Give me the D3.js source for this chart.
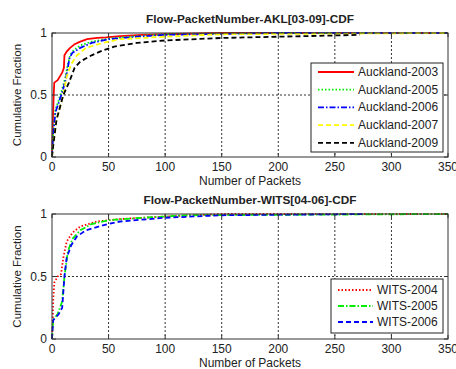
<!DOCTYPE html>
<html>
<head>
<meta charset="utf-8">
<script src="https://cdn.jsdelivr.net/npm/d3@7"></script>
<style>
  body { margin: 0; background: #fff; }
  text { font-family: "Liberation Sans", Arial, sans-serif; }
</style>
</head>
<body>
<script>
// Auckland CDFs (x = packets, y = cumulative fraction)
let akl2003X = [0, 0.8, 1.5, 2, 5, 7, 9, 10.5, 11, 13, 16, 20, 25, 31, 40, 48, 60, 80, 100, 150, 350];
let akl2003Y = [0, 0.3, 0.5, 0.6, 0.62, 0.65, 0.68, 0.72, 0.82, 0.85, 0.88, 0.91, 0.93, 0.95, 0.96, 0.965, 0.975, 0.985, 0.99, 1, 1];
let akl2005X = [0, 1, 3, 6, 9, 12, 14, 16, 19, 25, 35, 50, 75, 100, 200, 350];
let akl2005Y = [0, 0.2, 0.38, 0.46, 0.55, 0.65, 0.75, 0.82, 0.86, 0.9, 0.93, 0.955, 0.975, 0.99, 1, 1];
let akl2006X = [0, 1, 3, 6, 9, 12, 14, 15.5, 18, 25, 35, 50, 75, 100, 200, 350];
let akl2006Y = [0, 0.18, 0.36, 0.44, 0.52, 0.62, 0.72, 0.8, 0.84, 0.88, 0.92, 0.95, 0.97, 0.985, 1, 1];
let akl2007X = [0, 1, 4, 7, 10, 13, 17, 22, 30, 45, 60, 100, 150, 350];
let akl2007Y = [0, 0.1, 0.3, 0.4, 0.5, 0.65, 0.75, 0.82, 0.88, 0.92, 0.95, 0.97, 0.99, 1];
let akl2009X = [0, 0.5, 4, 7, 10, 15, 20, 25, 35, 45, 55, 75, 100, 150, 200, 250, 272];
let akl2009Y = [0, 0.05, 0.3, 0.4, 0.5, 0.6, 0.72, 0.77, 0.82, 0.86, 0.89, 0.92, 0.94, 0.96, 0.97, 0.98, 0.985];

// WITS CDFs
let wits2004X = [0, 0.5, 1, 2, 5, 8, 10, 13, 18, 25, 40, 60, 100, 150, 350];
let wits2004Y = [0, 0.1, 0.3, 0.45, 0.5, 0.52, 0.65, 0.78, 0.85, 0.9, 0.94, 0.96, 0.98, 1, 1];
let wits2005X = [0, 1, 5, 9, 11, 14, 18, 25, 35, 50, 80, 120, 350];
let wits2005Y = [0, 0.15, 0.2, 0.3, 0.5, 0.7, 0.8, 0.87, 0.92, 0.95, 0.97, 0.99, 1];
let wits2006X = [0, 1, 6, 9, 11, 13, 17, 22, 30, 45, 60, 100, 150, 277];
let wits2006Y = [0, 0.15, 0.2, 0.25, 0.5, 0.65, 0.75, 0.82, 0.87, 0.91, 0.94, 0.97, 0.99, 1];

let xTicks = [0, 50, 100, 150, 200, 250, 300, 350];
let yTicks = [0, 0.5, 1];

let svg = d3.select('body').append('svg').attr('width', 456).attr('height', 369);

function makeSeries(name, xs, ys, color, dash) {
  return { name: name, pts: xs.map((x, i) => [x, ys[i]]), color: color, dash: dash };
}

function drawPanel(top, bottom, title, series, legendBox) {
  let L = 52, R = 448;
  let x = d3.scaleLinear().domain([0, 350]).range([L, R]);
  let y = d3.scaleLinear().domain([0, 1]).range([bottom, top]);
  let g = svg.append('g');

  // grid
  g.selectAll('.gx').data(xTicks.slice(1, -1)).enter().append('line')
    .attr('x1', d => x(d)).attr('x2', d => x(d)).attr('y1', top).attr('y2', bottom)
    .attr('stroke', '#000').attr('stroke-width', 0.8).attr('stroke-dasharray', '2,2');
  g.selectAll('.gy').data([0.5]).enter().append('line')
    .attr('x1', L).attr('x2', R).attr('y1', d => y(d)).attr('y2', d => y(d))
    .attr('stroke', '#000').attr('stroke-width', 0.8).attr('stroke-dasharray', '2,2');

  // curves
  let line = d3.line().x(d => x(d[0])).y(d => y(d[1]));
  series.forEach(s => {
    g.append('path').attr('d', line(s.pts)).attr('fill', 'none')
      .attr('stroke', s.color).attr('stroke-width', 1.8)
      .attr('stroke-dasharray', s.dash);
  });

  // box
  g.append('rect').attr('x', L).attr('y', top).attr('width', R - L).attr('height', bottom - top)
    .attr('fill', 'none').attr('stroke', '#333').attr('stroke-width', 1);

  // ticks
  xTicks.forEach(t => {
    g.append('line').attr('x1', x(t)).attr('x2', x(t)).attr('y1', bottom).attr('y2', bottom - 4).attr('stroke', '#333');
    g.append('line').attr('x1', x(t)).attr('x2', x(t)).attr('y1', top).attr('y2', top + 4).attr('stroke', '#333');
    g.append('text').attr('x', x(t)).attr('y', bottom + 14).attr('text-anchor', 'middle')
      .attr('font-size', 12).attr('fill', '#222').text(t);
  });
  yTicks.forEach(t => {
    g.append('line').attr('x1', L).attr('x2', L + 4).attr('y1', y(t)).attr('y2', y(t)).attr('stroke', '#333');
    g.append('line').attr('x1', R).attr('x2', R - 4).attr('y1', y(t)).attr('y2', y(t)).attr('stroke', '#333');
    g.append('text').attr('x', L - 5).attr('y', y(t) + 4).attr('text-anchor', 'end')
      .attr('font-size', 12).attr('fill', '#222').text(t);
  });

  // labels
  g.append('text').attr('x', (L + R) / 2).attr('y', top - 10).attr('text-anchor', 'middle')
    .attr('font-size', 11.8).attr('font-weight', 'bold').attr('fill', '#222').text(title);
  g.append('text').attr('x', (L + R) / 2).attr('y', bottom + 28).attr('text-anchor', 'middle')
    .attr('font-size', 12).attr('fill', '#222').text('Number of Packets');
  g.append('text').attr('transform', `translate(21,${(top + bottom) / 2}) rotate(-90)`)
    .attr('text-anchor', 'middle').attr('font-size', 11.5).attr('fill', '#222').text('Cumulative Fraction');

  // legend
  let lb = legendBox;
  g.append('rect').attr('x', lb.x).attr('y', lb.y).attr('width', lb.w).attr('height', lb.h)
    .attr('fill', '#fff').attr('stroke', '#222').attr('stroke-width', 1);
  series.forEach((s, i) => {
    let yy = lb.y + lb.first + i * lb.step;
    g.append('line').attr('x1', lb.x + 7).attr('x2', lb.x + lb.lineW).attr('y1', yy).attr('y2', yy)
      .attr('stroke', s.color).attr('stroke-width', 1.8).attr('stroke-dasharray', s.dash);
    g.append('text').attr('x', lb.x + lb.lineW + 4).attr('y', yy + 4)
      .attr('font-size', 12).attr('fill', '#222').text(s.name);
  });
}

drawPanel(33, 157, 'Flow-PacketNumber-AKL[03-09]-CDF', [
  makeSeries('Auckland-2003', akl2003X, akl2003Y, '#ff0000', null),
  makeSeries('Auckland-2005', akl2005X, akl2005Y, '#00ee00', '1.5,2'),
  makeSeries('Auckland-2006', akl2006X, akl2006Y, '#0000ff', '6,2,1.5,2'),
  makeSeries('Auckland-2007', akl2007X, akl2007Y, '#ffff00', '5,3'),
  makeSeries('Auckland-2009', akl2009X, akl2009Y, '#000000', '5,3')
], { x: 311, y: 63, w: 132, h: 89, first: 9, step: 17.7, lineW: 43 });

drawPanel(214, 339, 'Flow-PacketNumber-WITS[04-06]-CDF', [
  makeSeries('WITS-2004', wits2004X, wits2004Y, '#ff0000', '1.5,2'),
  makeSeries('WITS-2005', wits2005X, wits2005Y, '#00ee00', '6,2,1.5,2'),
  makeSeries('WITS-2006', wits2006X, wits2006Y, '#0000ff', '5,3')
], { x: 331, y: 279, w: 112, h: 54, first: 11, step: 16, lineW: 42 });
</script>
</body>
</html>
